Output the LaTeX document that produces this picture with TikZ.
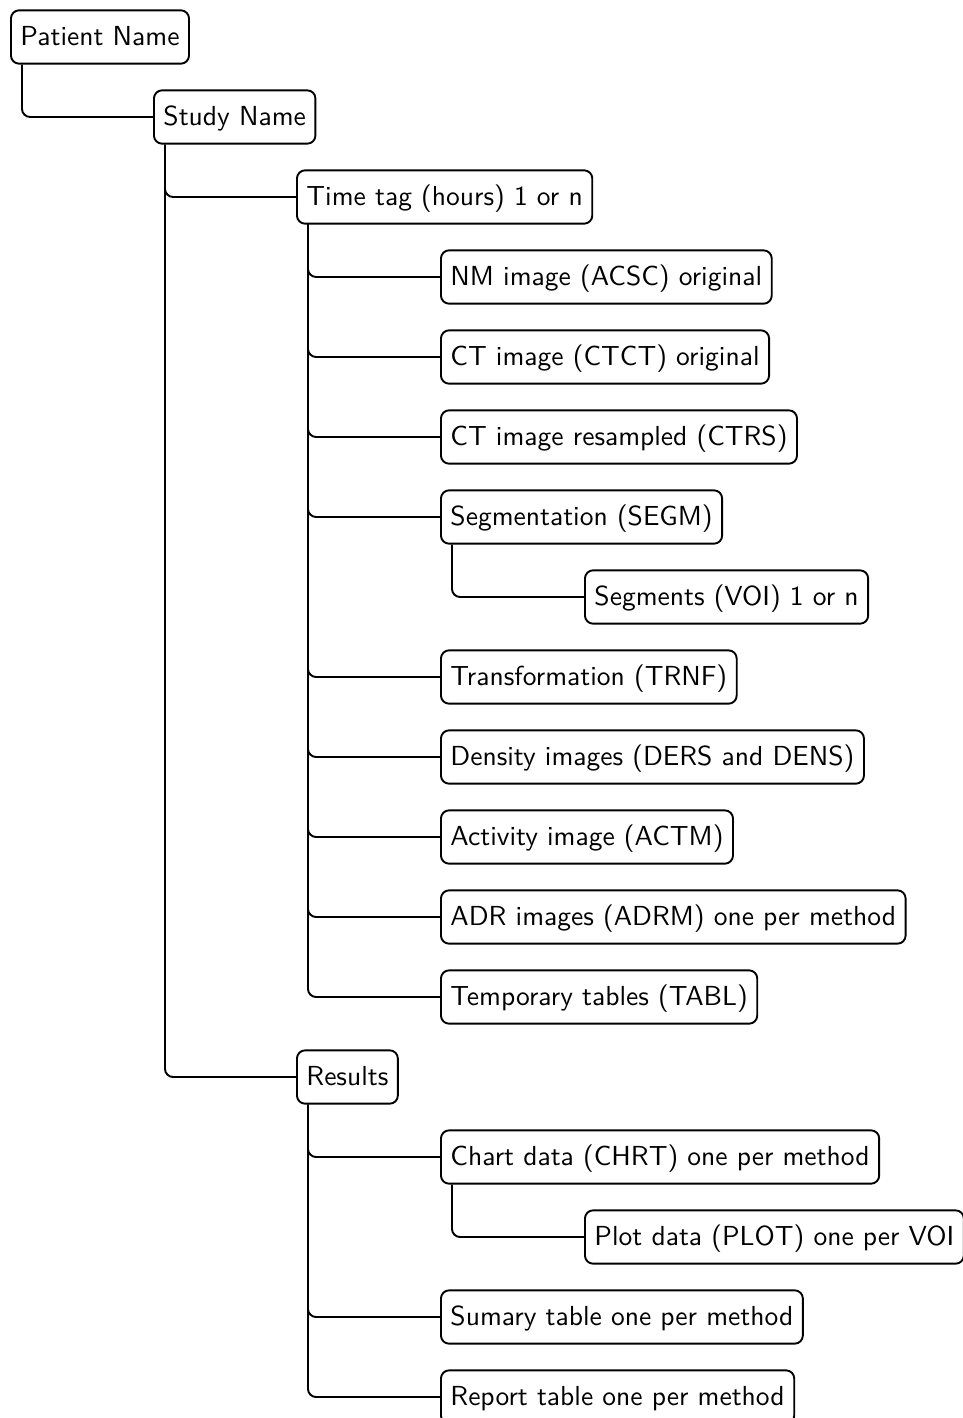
\documentclass[tikz,border=0pt]{standalone}
\begin{document}
\begin{tikzpicture}[x=0.3675pt,y=-0.3675pt,
  box/.style={draw, rounded corners=3pt, line width=0.7pt, inner xsep=3.5pt, inner ysep=0pt,
    minimum height=19.6pt, font=\sffamily\fontsize{10.12}{12}\selectfont, anchor=west, text height=7.7pt, text depth=1.3pt},
  link/.style={line width=0.7pt, rounded corners=3pt}]
\useasboundingbox (0,0) rectangle (963,1418);
\node[box] (pat) at (10,37) {Patient Name};
\node[box] (study) at (153,117) {Study Name};
\node[box] (time) at (296,197) {Time tag (hours) 1 or n};
\node[box] (nm) at (440,277) {NM image (ACSC) original};
\node[box] (ct) at (440,357) {CT image (CTCT) original};
\node[box] (ctrs) at (440,437) {CT image resampled (CTRS)};
\node[box] (segm) at (440,517) {Segmentation (SEGM)};
\node[box] (voi) at (584,597) {Segments (VOI) 1 or n};
\node[box] (trnf) at (440,677) {Transformation (TRNF)};
\node[box] (dens) at (440,757) {Density images (DERS and DENS)};
\node[box] (actm) at (440,837) {Activity image (ACTM)};
\node[box] (adrm) at (440,917) {ADR images (ADRM) one per method};
\node[box] (tabl) at (440,997) {Temporary tables (TABL)};
\node[box] (res) at (296,1077) {Results};
\node[box] (chrt) at (440,1157) {Chart data (CHRT) one per method};
\node[box] (plot) at (584,1237) {Plot data (PLOT) one per VOI};
\node[box] (sum) at (440,1317) {Sumary table one per method};
\node[box] (rep) at (440,1397) {Report table one per method};
\foreach \p/\c in {pat/study, study/time, study/res,
  time/nm, time/ct, time/ctrs, time/segm, time/trnf, time/dens, time/actm, time/adrm, time/tabl,
  segm/voi, res/chrt, res/sum, res/rep, chrt/plot}
  \draw[link] ([xshift=4.4pt]\p.south west) |- (\c.west);
\end{tikzpicture}
\end{document}
